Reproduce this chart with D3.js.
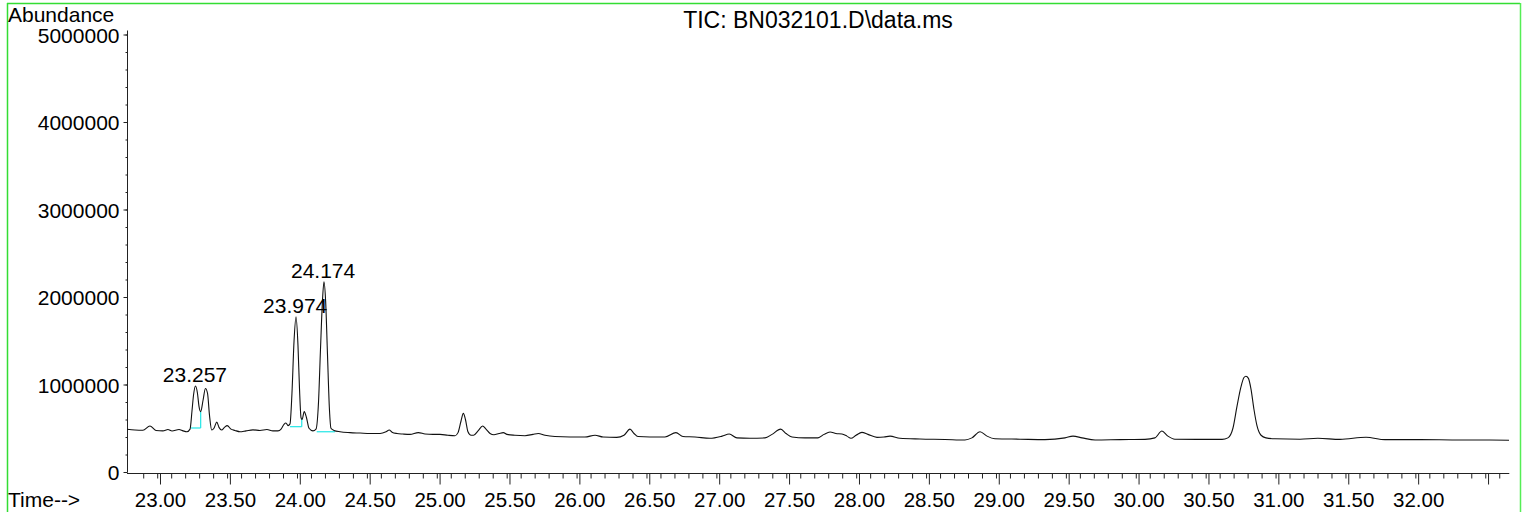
<!DOCTYPE html>
<html>
<head>
<meta charset="utf-8">
<script src="https://cdn.jsdelivr.net/npm/d3@7"></script>
<style>
  html, body { margin: 0; padding: 0; background: #fff; }
  svg { display: block; font-family: Arial, "Liberation Sans", sans-serif; }
</style>
</head>
<body>
<svg id="chart" width="1526" height="512"></svg>
<script>
// ---- Data ----
const title = "TIC: BN032101.D\\data.ms";
const yLabel = "Abundance";
const xLabel = "Time-->";

// retention time (min)
const rt = [
  22.764, 22.821, 22.878, 22.928, 22.971, 23.021, 23.057, 23.086, 23.136, 23.165,
  23.193, 23.215, 23.229, 23.240, 23.254, 23.268, 23.279, 23.291, 23.308, 23.325,
  23.340, 23.354, 23.370, 23.386, 23.406, 23.422, 23.441, 23.461, 23.481, 23.508,
  23.536, 23.572, 23.615, 23.665, 23.715, 23.765, 23.808, 23.844, 23.866, 23.887,
  23.901, 23.916, 23.930, 23.944, 23.959, 23.973, 23.987, 23.998, 24.009, 24.016,
  24.032, 24.048, 24.066, 24.094, 24.116, 24.134, 24.148, 24.162, 24.173, 24.185,
  24.198, 24.212, 24.223, 24.245, 24.288, 24.359, 24.431, 24.502, 24.574, 24.617,
  24.640, 24.660, 24.695, 24.738, 24.788, 24.848, 24.896, 24.953, 25.003, 25.060,
  25.110, 25.132, 25.153, 25.170, 25.185, 25.203, 25.225, 25.243, 25.275, 25.308,
  25.332, 25.361, 25.389, 25.425, 25.456, 25.482, 25.539, 25.611, 25.668, 25.706,
  25.754, 25.825, 25.933, 26.040, 26.112, 26.169, 26.267, 26.319, 26.362, 26.391,
  26.419, 26.505, 26.612, 26.691, 26.741, 26.827, 26.934, 27.021, 27.072, 27.127,
  27.220, 27.328, 27.378, 27.440, 27.478, 27.521, 27.614, 27.707, 27.750, 27.793,
  27.835, 27.878, 27.914, 27.943, 27.979, 28.021, 28.064, 28.129, 28.179, 28.222,
  28.293, 28.436, 28.615, 28.758, 28.808, 28.866, 28.916, 28.973, 29.152, 29.330,
  29.474, 29.531, 29.596, 29.689, 29.867, 30.046, 30.117, 30.167, 30.210, 30.260,
  30.439, 30.597, 30.639, 30.675, 30.704, 30.732, 30.754, 30.768, 30.786, 30.804,
  30.825, 30.847, 30.876, 30.911, 30.976, 31.155, 31.283, 31.441, 31.627, 31.763,
  32.013, 32.263, 32.513, 32.650
];
// abundance (counts)
const abundance = [
  488000, 480000, 478000, 526000, 475000, 470000, 485000, 468000, 485000, 470000,
  460000, 490000, 700000, 880000, 983000, 900000, 750000, 690000, 820000, 955000,
  900000, 650000, 480000, 500000, 570000, 510000, 480000, 510000, 530000, 490000,
  475000, 460000, 470000, 482000, 475000, 485000, 470000, 470000, 490000, 545000,
  560000, 530000, 550000, 900000, 1500000, 1775000, 1450000, 950000, 620000, 600000,
  690000, 620000, 500000, 470000, 490000, 800000, 1400000, 1950000, 2175000, 1950000,
  1350000, 720000, 500000, 475000, 460000, 450000, 445000, 440000, 440000, 460000,
  480000, 455000, 440000, 434000, 430000, 450000, 435000, 430000, 430000, 420000,
  415000, 450000, 580000, 670000, 600000, 460000, 420000, 420000, 470000, 526000,
  490000, 440000, 425000, 440000, 450000, 430000, 420000, 415000, 430000, 440000,
  420000, 405000, 400000, 400000, 420000, 400000, 396000, 420000, 490000, 440000,
  405000, 400000, 400000, 450000, 405000, 400000, 385000, 410000, 434000, 390000,
  385000, 390000, 430000, 490000, 440000, 400000, 390000, 390000, 430000, 457000,
  440000, 434000, 410000, 385000, 420000, 453000, 430000, 396000, 400000, 410000,
  385000, 377000, 372000, 366000, 390000, 460000, 410000, 380000, 375000, 370000,
  390000, 410000, 390000, 366000, 370000, 373000, 390000, 469000, 410000, 375000,
  373000, 373000, 390000, 500000, 750000, 970000, 1080000, 1095000, 1070000, 950000,
  720000, 530000, 420000, 390000, 380000, 375000, 385000, 373000, 397000, 370000,
  370000, 366000, 365000, 362000
];

// labelled peaks
const peakTimes = [23.257, 23.974, 24.174];
const peakHeights = [983000, 1775000, 2175000];
const peakLabels = ["23.257", "23.974", "24.174"];

// integration baselines: [start time, end time, level, drop-line top]
const baseStart = [23.222, 23.930, 24.121];
const baseEnd = [23.291, 24.014, 24.252];
const baseLevel = [503000, 518000, 460000];
const baseDropTop = [689000, 614000, null];

// axes
const xDomain = [22.764, 32.652];
const yDomain = [0, 5000000];
const xMajorTicks = [23.0, 23.5, 24.0, 24.5, 25.0, 25.5, 26.0, 26.5, 27.0, 27.5, 28.0, 28.5, 29.0, 29.5, 30.0, 30.5, 31.0, 31.5, 32.0, 32.5];
const xTickLabels = ["23.00", "23.50", "24.00", "24.50", "25.00", "25.50", "26.00", "26.50", "27.00", "27.50", "28.00", "28.50", "29.00", "29.50", "30.00", "30.50", "31.00", "31.50", "32.00", ""];
const yMajorTicks = [0, 1000000, 2000000, 3000000, 4000000, 5000000];
const yTickLabels = ["0", "1000000", "2000000", "3000000", "4000000", "5000000"];

// ---- Drawing ----
const svg = d3.select("#chart");
const W = 1526, H = 512;
const x = d3.scaleLinear().domain(xDomain).range([127, 1509.3]);
const y = d3.scaleLinear().domain(yDomain).range([472, 34.5]);
const FONT = "Arial, 'Liberation Sans', sans-serif";

// green frame
const green = "#33dd33";
svg.append("line").attr("x1", 7).attr("x2", 1520).attr("y1", 3.5).attr("y2", 3.5)
  .attr("stroke", green).attr("stroke-width", 1.5);
svg.append("line").attr("x1", 7.5).attr("x2", 7.5).attr("y1", 3).attr("y2", H)
  .attr("stroke", green).attr("stroke-width", 1.5);
svg.append("line").attr("x1", 1520.5).attr("x2", 1520.5).attr("y1", 3).attr("y2", H)
  .attr("stroke", "#55ee55").attr("stroke-width", 1.5);

// title & axis captions
const fs = 20.5;
svg.append("text").attr("x", 818).attr("y", 28).attr("text-anchor", "middle")
  .attr("font-size", 23).attr("fill", "#000").text(title);
svg.append("text").attr("x", 8).attr("y", 22).attr("font-size", 21)
  .attr("fill", "#000").text(yLabel);
svg.append("text").attr("x", 8).attr("y", 507).attr("font-size", 21)
  .attr("fill", "#000").text(xLabel);

// Y axis
const yAxis = svg.append("g").attr("transform", "translate(127.5,0)");
yAxis.call(d3.axisLeft(y).tickValues(d3.range(0, 5000001, 200000))
  .tickSize(2).tickFormat(""));
yAxis.call(g => g.select(".domain").attr("d", `M0,${y(5000000) - 4}V${y(0)}`));
const yMaj = svg.append("g").attr("transform", "translate(127.5,0)");
yMaj.call(d3.axisLeft(y).tickValues(yMajorTicks).tickSize(4)
  .tickFormat((d, i) => yTickLabels[i]).tickPadding(4));
yMaj.select(".domain").remove();
yMaj.selectAll("text").attr("font-size", 21).attr("font-family", FONT)
  .attr("fill", "#000").attr("dy", "0.36em");
svg.selectAll(".tick line").attr("stroke", "#222");
svg.selectAll(".domain").attr("stroke", "#222");

// X axis
const xMinor = d3.range(228, 3266, 10).map(v => v / 100).filter(v => v >= 22.8 && v <= 32.6 + 1e-9);
const xAxisG = svg.append("g").attr("transform", "translate(0,473.5)");
xAxisG.call(d3.axisBottom(x).tickValues(xMinor).tickSize(5).tickFormat(""));
xAxisG.select(".domain").attr("d", `M${x.range()[0]},0H${x.range()[1]}`).attr("stroke", "#222");
const xMaj = svg.append("g").attr("transform", "translate(0,473.5)");
xMaj.call(d3.axisBottom(x).tickValues(xMajorTicks).tickSize(11)
  .tickFormat((d, i) => xTickLabels[i]).tickPadding(8));
xMaj.select(".domain").remove();
xMaj.selectAll("text").attr("font-size", fs).attr("font-family", FONT)
  .attr("fill", "#000");
svg.selectAll(".tick line").attr("stroke", "#222");

// integration baselines (cyan)
const cyan = "#22e6e6";
const bl = svg.append("g");
baseStart.forEach((s, i) => {
  bl.append("line").attr("x1", x(s)).attr("x2", x(baseEnd[i]))
    .attr("y1", y(baseLevel[i])).attr("y2", y(baseLevel[i]))
    .attr("stroke", cyan).attr("stroke-width", 1.2);
  if (baseDropTop[i] !== null) {
    bl.append("line").attr("x1", x(baseEnd[i])).attr("x2", x(baseEnd[i]))
      .attr("y1", y(baseLevel[i])).attr("y2", y(baseDropTop[i]))
      .attr("stroke", cyan).attr("stroke-width", 1.2);
  }
});

// chromatogram trace
const pts = rt.map((t, i) => [t, abundance[i]]);
const line = d3.line().x(d => x(d[0])).y(d => y(d[1])).curve(d3.curveMonotoneX);
svg.append("path").datum(pts).attr("d", line)
  .attr("fill", "none").attr("stroke", "#111").attr("stroke-width", 1.1);

// peak labels
svg.append("g").selectAll("text").data(peakTimes).join("text")
  .attr("x", (d) => x(d) - 1)
  .attr("y", (d, i) => y(peakHeights[i]) - 4)
  .attr("text-anchor", "middle").attr("font-size", 21).attr("fill", "#000")
  .text((d, i) => peakLabels[i]);
</script>
</body>
</html>
